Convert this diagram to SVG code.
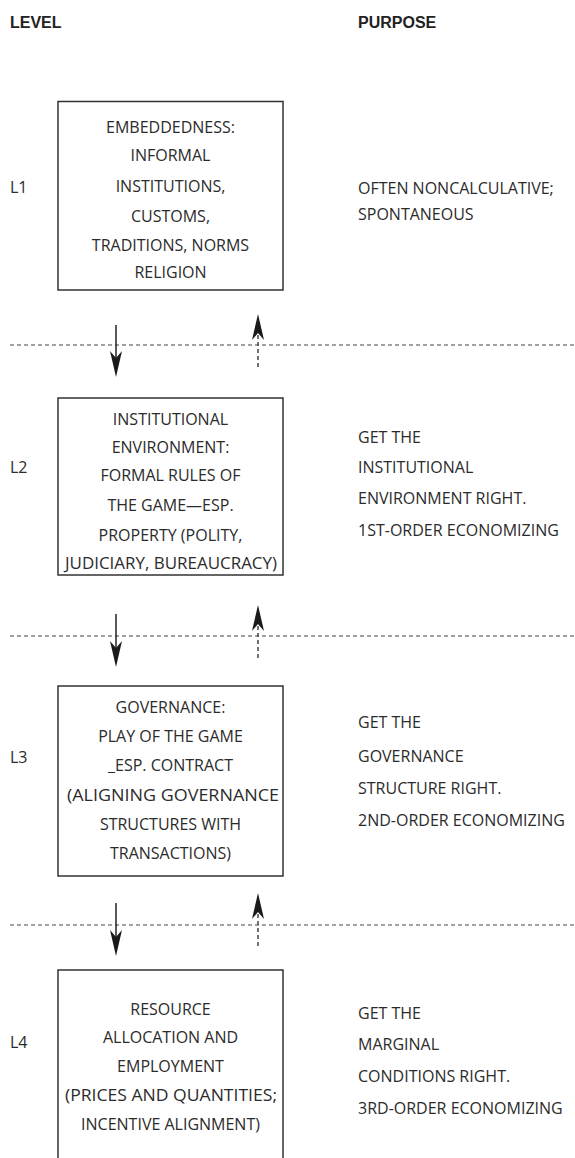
<svg xmlns="http://www.w3.org/2000/svg" width="575" height="1158" viewBox="0 0 575 1158">
<style>
text{font-family:"Open Sans","Noto Sans",sans-serif;font-size:16px;fill:#2b2b2b}
.h{font-family:"Liberation Sans",sans-serif;font-weight:bold;font-size:16px;fill:#222}
.c{text-anchor:middle}
.box{fill:none;stroke:#333;stroke-width:1.5}
.sep{stroke:#444;stroke-width:1.2;stroke-dasharray:4 3}
.sh{stroke:#222;stroke-width:1.5}
.dsh{stroke:#444;stroke-width:1.5;stroke-dasharray:4 3}
.hd{fill:#1a1a1a}
</style>
<defs>
<path id="dn" d="M0,0 L-6,-26 L0,-19 L6,-26 Z"/>
<path id="up" d="M0,0 L-6,26 L0,19 L6,26 Z"/>
</defs>
<g id="headers">
<text class="h" x="10" y="28">LEVEL</text>
<text class="h" x="358" y="28">PURPOSE</text>
</g>
<g id="L1">
<rect class="box" x="58" y="101.5" width="225" height="188.5"/>
<text x="10" y="193">L1</text>
<text class="c" x="170.5" y="133">EMBEDDEDNESS:</text>
<text class="c" x="170.5" y="161">INFORMAL</text>
<text class="c" x="170.5" y="192">INSTITUTIONS,</text>
<text class="c" x="170.5" y="222">CUSTOMS,</text>
<text class="c" x="170.5" y="251">TRADITIONS, NORMS</text>
<text class="c" x="170.5" y="278">RELIGION</text>
<text x="358" y="194">OFTEN NONCALCULATIVE;</text>
<text x="358" y="220">SPONTANEOUS</text>
</g>
<g id="L2">
<rect class="box" x="58" y="398" width="225" height="177"/>
<text x="10" y="473">L2</text>
<text class="c" x="170.5" y="425">INSTITUTIONAL</text>
<text class="c" x="170.5" y="453">ENVIRONMENT:</text>
<text class="c" x="170.5" y="481">FORMAL RULES OF</text>
<text class="c" x="170.5" y="511">THE GAME—ESP.</text>
<text class="c" x="170.5" y="541">PROPERTY (POLITY,</text>
<text class="c" x="171" y="569" textLength="212" lengthAdjust="spacingAndGlyphs">JUDICIARY, BUREAUCRACY)</text>
<text x="358" y="443">GET THE</text>
<text x="358" y="473">INSTITUTIONAL</text>
<text x="358" y="504">ENVIRONMENT RIGHT.</text>
<text x="358" y="536">1ST-ORDER ECONOMIZING</text>
</g>
<g id="L3">
<rect class="box" x="58" y="686" width="225" height="190"/>
<text x="10" y="763">L3</text>
<text class="c" x="170.5" y="713">GOVERNANCE:</text>
<text class="c" x="170.5" y="742">PLAY OF THE GAME</text>
<text class="c" x="170.5" y="771">_ESP. CONTRACT</text>
<text class="c" x="173" y="801" textLength="212" lengthAdjust="spacingAndGlyphs">(ALIGNING GOVERNANCE</text>
<text class="c" x="170.5" y="830">STRUCTURES WITH</text>
<text class="c" x="170.5" y="859">TRANSACTIONS)</text>
<text x="358" y="728">GET THE</text>
<text x="358" y="762">GOVERNANCE</text>
<text x="358" y="794">STRUCTURE RIGHT.</text>
<text x="358" y="826">2ND-ORDER ECONOMIZING</text>
</g>
<g id="L4">
<path class="box" d="M58,1160 V970 H283 V1160"/>
<text x="10" y="1048">L4</text>
<text class="c" x="170.5" y="1015">RESOURCE</text>
<text class="c" x="170.5" y="1043">ALLOCATION AND</text>
<text class="c" x="170.5" y="1072">EMPLOYMENT</text>
<text class="c" x="171" y="1101" textLength="212" lengthAdjust="spacingAndGlyphs">(PRICES AND QUANTITIES;</text>
<text class="c" x="170.5" y="1130">INCENTIVE ALIGNMENT)</text>
<text x="358" y="1019">GET THE</text>
<text x="358" y="1050">MARGINAL</text>
<text x="358" y="1082">CONDITIONS RIGHT.</text>
<text x="358" y="1114">3RD-ORDER ECONOMIZING</text>
</g>
<g id="connectors">
<line class="sep" x1="10" y1="345" x2="575" y2="345"/>
<line class="sep" x1="10" y1="636" x2="575" y2="636"/>
<line class="sep" x1="10" y1="925" x2="575" y2="925"/>
<line class="sh" x1="116" y1="325" x2="116" y2="360"/>
<use href="#dn" class="hd" x="116" y="377"/>
<line class="dsh" x1="258" y1="367" x2="258" y2="333"/>
<use href="#up" class="hd" x="258" y="314"/>
<line class="sh" x1="116" y1="614" x2="116" y2="650"/>
<use href="#dn" class="hd" x="116" y="667"/>
<line class="dsh" x1="258" y1="658" x2="258" y2="624"/>
<use href="#up" class="hd" x="258" y="605"/>
<line class="sh" x1="116" y1="903" x2="116" y2="939"/>
<use href="#dn" class="hd" x="116" y="956"/>
<line class="dsh" x1="258" y1="946" x2="258" y2="912"/>
<use href="#up" class="hd" x="258" y="893"/>
</g>
</svg>
